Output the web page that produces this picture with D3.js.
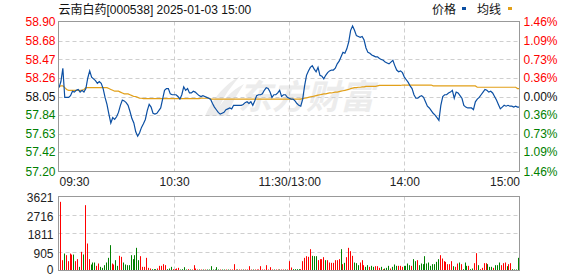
<!DOCTYPE html>
<html>
<head>
<meta charset="utf-8">
<script src="https://cdn.jsdelivr.net/npm/d3@7"></script>
<style>
  body { margin: 0; background: #fff; }
  svg { display: block; font-family: "Liberation Sans", "Noto Sans CJK SC", sans-serif; font-size: 12px; }
</style>
</head>
<body>
<svg id="chart" width="578" height="276"></svg>
<script>
const title = "云南白药[000538] 2025-01-03 15:00";
const preClose = 58.05;
const priceTicks = [58.90, 58.68, 58.47, 58.26, 58.05, 57.84, 57.63, 57.42, 57.20];
const pctLabels = ["1.46%", "1.09%", "0.73%", "0.36%", "0.00%", "0.36%", "0.73%", "1.09%", "1.46%"];
const volTicks = [3621, 2716, 1811, 905, 0];
const timeLabels = ["09:30", "10:30", "11:30/13:00", "14:00", "15:00"];
const timeIndex = [0, 60, 120, 180, 240];

// one value per minute, 241 points
const prices = [
  58.15, 58.22, 58.37, 58.04, 58.04, 58.04, 58.06, 58.11, 58.10, 58.12,
  58.13, 58.10, 58.12, 58.10, 58.14, 58.26, 58.34, 58.27, 58.25, 58.23,
  58.20, 58.22, 58.20, 58.14, 58.04, 57.96, 57.85, 57.75, 57.81, 57.79,
  57.82, 57.87, 57.95, 58.01, 58.00, 57.98, 57.95, 57.88, 57.80, 57.75,
  57.65, 57.60, 57.64, 57.70, 57.74, 57.79, 57.89, 57.96, 57.93, 57.86,
  57.85, 57.86, 57.89, 57.92, 58.02, 58.12, 58.14, 58.14, 58.08, 58.07,
  58.07, 58.07, 58.05, 58.02, 58.07, 58.16, 58.12, 58.14, 58.09, 58.09,
  58.11, 58.10, 58.08, 58.06, 58.05, 58.06, 58.05, 58.04, 58.03, 58.02,
  57.97, 57.93, 57.90, 57.87, 57.85, 57.86, 57.87, 57.90, 57.91, 57.92,
  57.91, 57.95, 57.95, 57.95, 57.95, 57.95, 57.96, 57.98, 57.99, 57.97,
  57.99, 57.95, 58.00, 58.06, 58.07, 58.07, 58.08, 58.12, 58.15, 58.14,
  58.10, 58.04, 58.07, 58.07, 58.09, 58.12, 58.05, 58.07, 58.07, 58.04,
  58.03, 58.02, 58.02, 58.00, 57.97, 57.95, 57.94, 58.02, 58.17, 58.29,
  58.34, 58.38, 58.40, 58.36, 58.33, 58.38, 58.29, 58.28, 58.25, 58.29,
  58.32, 58.34, 58.35, 58.35, 58.37, 58.42, 58.45, 58.50, 58.55, 58.54,
  58.59, 58.67, 58.80, 58.85, 58.80, 58.74, 58.73, 58.72, 58.73, 58.69,
  58.60, 58.55, 58.54, 58.52, 58.51, 58.50, 58.50, 58.48, 58.47, 58.46,
  58.44, 58.43, 58.42, 58.44, 58.46, 58.40, 58.35, 58.33, 58.34, 58.32,
  58.27, 58.24, 58.21, 58.17, 58.14, 58.07, 58.03, 58.03, 58.05, 58.06,
  58.04, 57.99, 57.94, 57.92, 57.89, 57.86, 57.84, 57.81, 57.78, 57.95,
  58.05, 58.07, 58.07, 58.09, 58.10, 58.12, 58.03, 58.10, 58.09, 58.06,
  58.03, 57.95, 57.93, 57.92, 57.92, 57.92, 57.90, 57.99, 58.02, 58.04,
  58.07, 58.10, 58.13, 58.12, 58.10, 58.11, 58.09, 58.05, 58.01, 57.96,
  57.91, 57.93, 57.95, 57.94, 57.95, 57.94, 57.94, 57.93, 57.94, 57.93,
  57.93
];

const avgPrices = [
  58.16, 58.17, 58.17, 58.15, 58.13, 58.12, 58.12, 58.12, 58.12, 58.12,
  58.12, 58.12, 58.12, 58.13, 58.15, 58.15, 58.15, 58.15, 58.15, 58.15,
  58.15, 58.15, 58.15, 58.15, 58.15, 58.15, 58.14, 58.13, 58.12, 58.11,
  58.11, 58.11, 58.10, 58.09, 58.08, 58.08, 58.08, 58.07, 58.06, 58.05,
  58.05, 58.04, 58.03, 58.03, 58.025, 58.025, 58.025, 58.025, 58.025, 58.025,
  58.025, 58.025, 58.025, 58.025, 58.025, 58.025, 58.025, 58.025, 58.025, 58.025,
  58.025, 58.025, 58.025, 58.025, 58.025, 58.025, 58.025, 58.025, 58.025, 58.025,
  58.025, 58.025, 58.025, 58.025, 58.03, 58.03, 58.03, 58.03, 58.03, 58.02,
  58.02, 58.02, 58.02, 58.02, 58.02, 58.02, 58.02, 58.02, 58.02, 58.02,
  58.02, 58.02, 58.02, 58.02, 58.02, 58.02, 58.02, 58.02, 58.02, 58.02,
  58.02, 58.02, 58.02, 58.02, 58.02, 58.02, 58.02, 58.02, 58.02, 58.02,
  58.02, 58.02, 58.02, 58.02, 58.02, 58.02, 58.02, 58.02, 58.02, 58.02,
  58.02, 58.02, 58.02, 58.02, 58.02, 58.02, 58.02, 58.025, 58.03, 58.035,
  58.04, 58.045, 58.05, 58.055, 58.06, 58.065, 58.07, 58.075, 58.08, 58.08,
  58.085, 58.09, 58.09, 58.095, 58.10, 58.10, 58.105, 58.11, 58.115, 58.12,
  58.125, 58.13, 58.14, 58.145, 58.15, 58.15, 58.155, 58.155, 58.16, 58.16,
  58.165, 58.165, 58.165, 58.165, 58.165, 58.165, 58.17, 58.175, 58.175, 58.175,
  58.175, 58.175, 58.175, 58.175, 58.175, 58.175, 58.175, 58.175, 58.175, 58.18,
  58.18, 58.18, 58.18, 58.18, 58.18, 58.18, 58.18, 58.18, 58.18, 58.18,
  58.18, 58.18, 58.18, 58.18, 58.18, 58.17, 58.17, 58.17, 58.17, 58.17,
  58.17, 58.17, 58.17, 58.17, 58.17, 58.17, 58.17, 58.17, 58.17, 58.17,
  58.17, 58.17, 58.17, 58.17, 58.17, 58.17, 58.17, 58.17, 58.155, 58.155,
  58.155, 58.155, 58.155, 58.155, 58.155, 58.155, 58.155, 58.155, 58.155, 58.155,
  58.155, 58.155, 58.155, 58.155, 58.155, 58.155, 58.155, 58.155, 58.155, 58.14,
  58.14
];

const volumes = [
  3360, 505, 830, 750, 456, 830, 780, 780, 457, 555,
  179, 913, 783, 3197, 1321, 555, 294, 391, 391, 228,
  343, 179, 130, 261, 391, 620, 1240, 343, 294, 506,
  228, 718, 669, 391, 294, 261, 261, 750, 555, 750,
  1109, 506, 701, 179, 179, 620, 130, 98, 65, 65,
  65, 98, 228, 228, 310, 261, 65, 98, 179, 65,
  65, 98, 130, 49, 65, 163, 49, 65, 49, 49,
  261, 98, 49, 49, 49, 49, 49, 49, 49, 212,
  49, 49, 163, 49, 49, 49, 49, 49, 49, 49,
  49, 310, 49, 49, 49, 49, 49, 49, 49, 212,
  49, 49, 49, 49, 49, 212, 49, 49, 261, 49,
  163, 49, 49, 49, 49, 49, 49, 49, 49, 49,
  457, 147, 65, 65, 65, 65, 65, 457, 620, 701,
  669, 1044, 718, 701, 701, 506, 555, 555, 652, 506,
  506, 391, 375, 375, 506, 506, 555, 1044, 310, 375,
  652, 1109, 946, 718, 391, 359, 261, 391, 506, 261,
  179, 261, 179, 228, 179, 212, 212, 130, 179, 65,
  98, 130, 228, 98, 179, 294, 228, 228, 228, 179,
  228, 228, 343, 261, 228, 555, 457, 506, 261, 343,
  310, 701, 343, 391, 228, 310, 310, 424, 555, 750,
  587, 457, 424, 310, 310, 457, 212, 179, 343, 391,
  310, 65, 391, 228, 228, 65, 98, 359, 848, 261,
  65, 130, 359, 359, 310, 179, 179, 130, 261, 261,
  391, 261, 359, 391, 212, 310, 359, 65, 49, 49,
  620
];

// 1 = up (red), 0 = down (green)
const volUp = [
  1, 1, 0, 1, 1, 1, 1, 0, 1, 1,
  0, 1, 0, 1, 1, 1, 0, 0, 0, 1,
  1, 0, 0, 0, 0, 0, 0, 1, 1, 0,
  0, 1, 1, 0, 0, 0, 0, 0, 0, 0,
  0, 0, 1, 1, 1, 1, 1, 1, 0, 0,
  0, 1, 1, 1, 1, 1, 0, 0, 0, 1,
  1, 1, 1, 0, 0, 0, 0, 1, 0, 1,
  1, 1, 1, 0, 1, 0, 1, 0, 0, 0,
  0, 0, 0, 0, 1, 0, 0, 1, 0, 1,
  1, 1, 1, 0, 1, 1, 0, 1, 1, 1,
  1, 0, 1, 1, 1, 1, 1, 1, 1, 1,
  1, 1, 0, 1, 1, 0, 1, 1, 0, 1,
  1, 1, 0, 0, 0, 0, 1, 1, 1, 1,
  1, 1, 0, 0, 0, 1, 1, 1, 1, 0,
  1, 1, 1, 1, 1, 1, 1, 0, 1, 0,
  1, 1, 1, 1, 0, 0, 0, 1, 1, 1,
  0, 0, 1, 0, 0, 1, 1, 1, 0, 1,
  0, 0, 0, 1, 0, 0, 0, 1, 1, 1,
  0, 0, 0, 0, 1, 0, 0, 1, 0, 0,
  0, 0, 0, 0, 0, 0, 0, 0, 0, 1,
  1, 1, 1, 1, 1, 1, 0, 1, 1, 0,
  1, 0, 0, 0, 1, 0, 0, 1, 1, 0,
  1, 1, 1, 1, 0, 0, 0, 1, 0, 0,
  0, 1, 1, 1, 0, 1, 1, 0, 0, 0,
  0
];

const red = "#ff0000";
const green = "#008000";
const blue = "#0b4fa3";
const orange = "#e2a019";
const gridColor = "#cfcfcf";
const borderColor = "#999";

const svg = d3.select("#chart");
const left = 58.5, right = 519.5;
const mainTop = 21.5, mainBottom = 171.5;
const volTop = 196.5, volBottom = 270.5;

const x = d3.scaleLinear().domain([0, 240]).range([left + 0.5, right]);
const xBar = d3.scaleLinear().domain([0, 240]).range([60, 518]);
const y = d3.scaleLinear().domain([57.20, 58.90]).range([mainBottom, mainTop]);
const yVol = d3.scaleLinear().domain([0, 3621]).range([volBottom, volTop]);

// watermark
const wm = svg.append("g").attr("fill", "#ececec");
wm.append("path")
  .attr("d", "M205,116 C214,96 226,84 240,76 C228,90 220,102 216,116 Z M214,116 C222,100 232,90 244,84 C236,96 230,106 228,116 Z");
wm.append("text")
  .attr("x", 238)
  .attr("y", 109)
  .attr("font-size", 34)
  .attr("font-weight", "bold")
  .attr("font-style", "italic")
  .attr("font-family", "Noto Sans CJK SC")
  .text("东方财富");

// grids
function hGrid(ticks, scale) {
  svg.append("g")
    .selectAll("line")
    .data(ticks)
    .join("line")
    .attr("x1", left)
    .attr("x2", right)
    .attr("y1", d => Math.round(scale(d)) + 0.5)
    .attr("y2", d => Math.round(scale(d)) + 0.5)
    .attr("stroke", gridColor)
    .attr("stroke-dasharray", "4,3");
}
function vGrid(y1, y2) {
  svg.append("g")
    .selectAll("line")
    .data(timeIndex.slice(1, 4))
    .join("line")
    .attr("x1", d => Math.round(x(d)) + 0.5)
    .attr("x2", d => Math.round(x(d)) + 0.5)
    .attr("y1", y1)
    .attr("y2", y2)
    .attr("stroke", gridColor)
    .attr("stroke-dasharray", "4,3");
}
hGrid(priceTicks.slice(1, -1), y);
vGrid(mainTop, mainBottom);
hGrid(volTicks.slice(1, -1), yVol);
vGrid(volTop, volBottom);

// avg + price lines
const line = d3.line().x((d, i) => x(i)).y(d => y(d));
svg.append("path")
  .datum(avgPrices)
  .attr("fill", "none")
  .attr("stroke", orange)
  .attr("stroke-width", 1.2)
  .attr("d", line);
svg.append("path")
  .datum(prices)
  .attr("fill", "none")
  .attr("stroke", blue)
  .attr("stroke-width", 1.2)
  .attr("d", line);

// volume bars
svg.append("g")
  .selectAll("rect")
  .data(volumes)
  .join("rect")
  .attr("x", (d, i) => Math.round(xBar(i)))
  .attr("width", 1)
  .attr("y", d => yVol(d))
  .attr("height", d => volBottom - yVol(d))
  .attr("fill", (d, i) => volUp[i] ? red : green);

// borders
[[mainTop, mainBottom], [volTop, volBottom]].forEach(([t, b]) => {
  svg.append("rect")
    .attr("x", left)
    .attr("y", t)
    .attr("width", right - left)
    .attr("height", b - t)
    .attr("fill", "none")
    .attr("stroke", borderColor);
});

// axes
function labelColor(v) {
  if (Math.abs(v - preClose) < 0.001) return "#111";
  return v > preClose ? red : green;
}

const leftAxis = svg.append("g")
  .attr("transform", `translate(${left},0)`)
  .call(d3.axisLeft(y).tickValues(priceTicks).tickSize(0).tickPadding(3).tickFormat(d3.format(".2f")));
leftAxis.select(".domain").remove();
leftAxis.selectAll("text")
  .attr("font-size", 12)
  .attr("font-family", "Liberation Sans")
  .attr("fill", d => labelColor(d));

const rightAxis = svg.append("g")
  .attr("transform", `translate(${right},0)`)
  .call(d3.axisRight(y).tickValues(priceTicks).tickSize(0).tickPadding(4)
    .tickFormat((d, i) => pctLabels[i]));
rightAxis.select(".domain").remove();
rightAxis.selectAll("text")
  .attr("font-size", 12)
  .attr("font-family", "Liberation Sans")
  .attr("fill", d => labelColor(d));

const volAxis = svg.append("g")
  .attr("transform", `translate(${left},0)`)
  .call(d3.axisLeft(yVol).tickValues(volTicks).tickSize(0).tickPadding(5).tickFormat(d3.format("d")));
volAxis.select(".domain").remove();
volAxis.selectAll("text")
  .attr("font-size", 12)
  .attr("font-family", "Liberation Sans")
  .attr("fill", "#222")
  .attr("y", d => d === 0 ? -0.5 : 1.5);

const timeAxis = svg.append("g")
  .attr("transform", `translate(0,${mainBottom})`)
  .call(d3.axisBottom(x).tickValues(timeIndex).tickSize(0).tickPadding(6)
    .tickFormat((d, i) => timeLabels[i]));
timeAxis.select(".domain").remove();
timeAxis.selectAll("text")
  .attr("font-size", 12)
  .attr("font-family", "Liberation Sans")
  .attr("fill", "#222")
  .attr("text-anchor", (d, i) => i === 0 ? "start" : i === timeIndex.length - 1 ? "end" : "middle");

// title + legend
svg.append("text")
  .attr("x", left)
  .attr("y", 14)
  .attr("fill", "#111")
  .text(title);

const legend = svg.append("g").attr("fill", "#111");
legend.append("text").attr("x", 432).attr("y", 14).text("价格");
legend.append("rect").attr("x", 462).attr("y", 7).attr("width", 4).attr("height", 3).attr("fill", blue);
legend.append("text").attr("x", 477).attr("y", 14).text("均线");
legend.append("rect").attr("x", 508).attr("y", 7).attr("width", 4).attr("height", 3).attr("fill", orange);
</script>
</body>
</html>
